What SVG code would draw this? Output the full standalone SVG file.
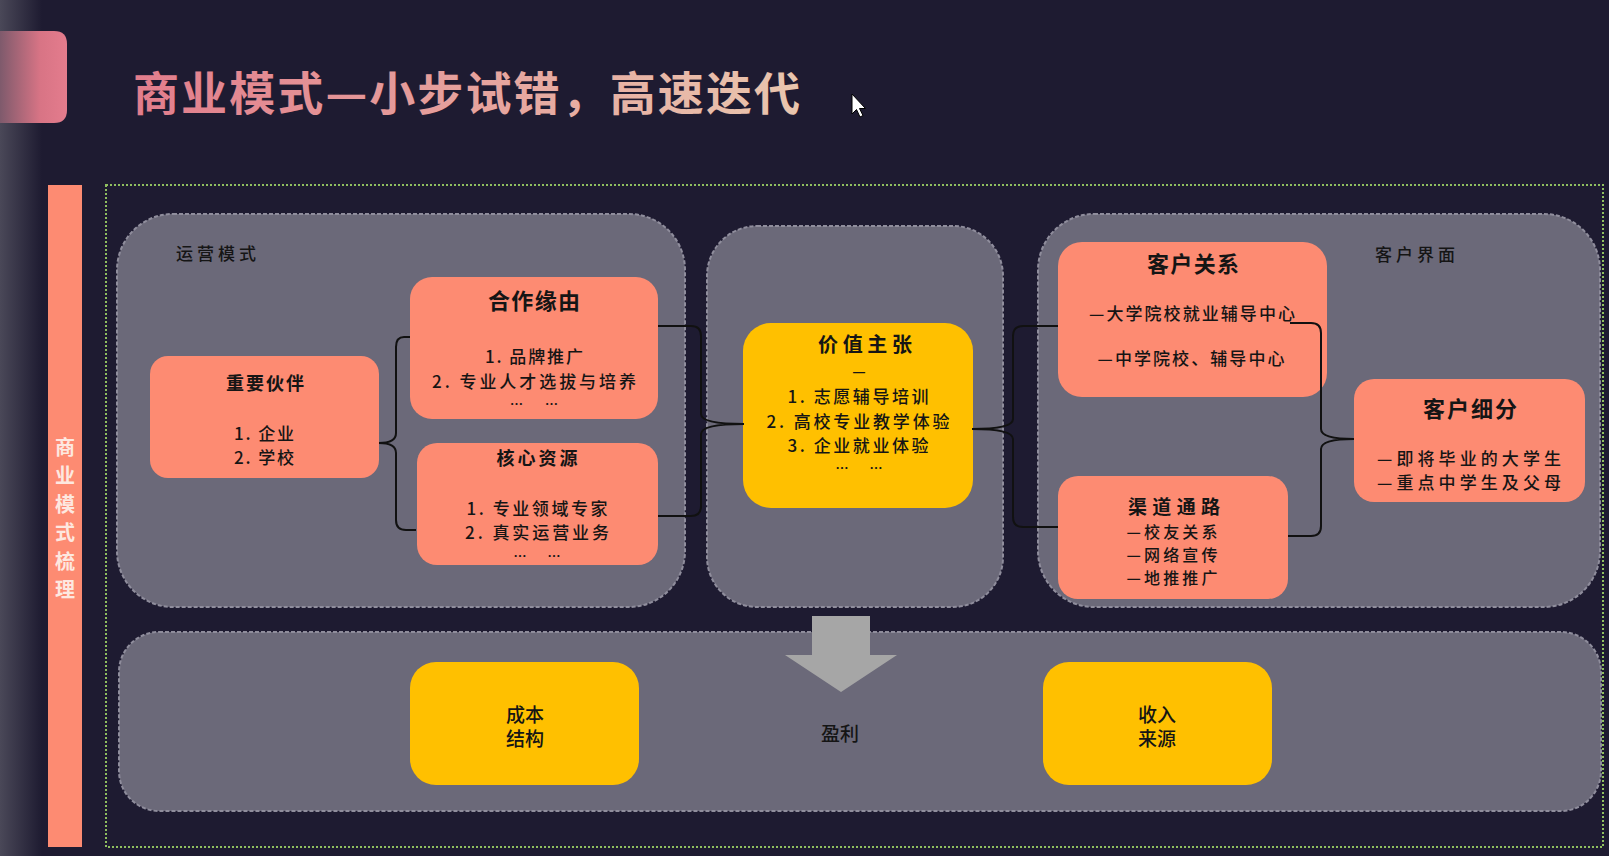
<svg xmlns="http://www.w3.org/2000/svg" width="1609" height="856" viewBox="0 0 1609 856">
<defs>
<linearGradient id="edge" x1="0" y1="0" x2="1" y2="0"><stop offset="0" stop-color="#4a4858"/><stop offset="1" stop-color="#1e1b31"/></linearGradient>
<linearGradient id="tab" x1="0" y1="0" x2="1" y2="0"><stop offset="0" stop-color="#7e5a6c"/><stop offset="0.6" stop-color="#d87485"/><stop offset="1" stop-color="#e47c8d"/></linearGradient>
<linearGradient id="ttl" gradientUnits="userSpaceOnUse" x1="133" y1="0" x2="800" y2="0"><stop offset="0" stop-color="#e27d8c"/><stop offset="1" stop-color="#e9c6ae"/></linearGradient>
<style>
.t{font-family:"Noto Sans CJK SC","Noto Sans",sans-serif;fill:#151515;dominant-baseline:central;text-anchor:middle}
.h{font-weight:700}
.b{font-weight:500}
.panel{fill:#6b6979;stroke:#8f8d9c;stroke-width:2;stroke-dasharray:4 2}
.sal{fill:#fd8b72}
.yel{fill:#ffc000}
.con{fill:none;stroke:#111;stroke-width:2}
</style>
</defs>
<rect width="1609" height="856" fill="#1e1b31"/>
<rect x="0" y="0" width="42" height="856" fill="url(#edge)"/>
<path d="M0,31 H54 Q67,31 67,44 V110 Q67,123 54,123 H0 Z" fill="url(#tab)"/>
<text x="133" y="90" font-family="Noto Sans CJK SC, sans-serif" font-size="46" font-weight="700" fill="url(#ttl)" dominant-baseline="central" textLength="667" lengthAdjust="spacing">商业模式—小步试错，高速迭代</text>
<path d="M852,94 L852,114 L856.5,109.5 L860,117 L863,115.5 L859.5,108.5 L865.5,108.5 Z" fill="#fff" stroke="#000" stroke-width="1"/>
<g id="sidebar">
<rect x="48" y="185" width="34" height="662" fill="#fd8b72"/>
<g font-family="Noto Sans CJK SC, sans-serif" font-size="20" font-weight="700" fill="#fde8e0" text-anchor="middle" dominant-baseline="central">
<text x="65" y="446">商</text><text x="65" y="474.5">业</text><text x="65" y="503">模</text><text x="65" y="531.5">式</text><text x="65" y="560">梳</text><text x="65" y="588.5">理</text>
</g>
</g>
<rect x="106" y="185" width="1497" height="662" fill="none" stroke="#8fbf5f" stroke-width="2" stroke-dasharray="2 2"/>
<g id="panel-ops">
<rect class="panel" x="117" y="214" width="568" height="393" rx="56"/>
<text class="t b" x="216" y="252" font-size="17" textLength="80" lengthAdjust="spacing">运营模式</text>
</g>
<g id="panel-value"><rect class="panel" x="707" y="226" width="296" height="381" rx="50"/></g>
<g id="panel-customer">
<rect class="panel" x="1038" y="214" width="562" height="393" rx="56"/>
<text class="t b" x="1415" y="253" font-size="17" textLength="80" lengthAdjust="spacing">客户界面</text>
</g>
<g id="panel-profit"><rect class="panel" x="119" y="632" width="1482" height="179" rx="40"/></g>
<g id="arrow"><path d="M812,616 H870 V655 H897 L841,692 L785,655 H812 Z" fill="#a6a6a6"/></g>
<g id="partners">
<rect class="sal" x="150" y="356" width="229" height="122" rx="18"/>
<text class="t h" x="265" y="382" font-size="18" textLength="78" lengthAdjust="spacing">重要伙伴</text>
<text class="t b" x="264" y="432" font-size="17" textLength="60" lengthAdjust="spacing">1. 企业</text>
<text class="t b" x="264" y="456" font-size="17" textLength="60" lengthAdjust="spacing">2. 学校</text>
</g>
<g id="reason">
<rect class="sal" x="410" y="277" width="248" height="142" rx="22"/>
<text class="t h" x="534" y="299" font-size="22" textLength="92" lengthAdjust="spacing">合作缘由</text>
<text class="t b" x="534" y="355" font-size="17" textLength="98" lengthAdjust="spacing">1. 品牌推广</text>
<text class="t b" x="534" y="380" font-size="17" textLength="204" lengthAdjust="spacing">2. 专业人才选拔与培养</text>
<text class="t h" x="534" y="403" font-size="13" textLength="48" lengthAdjust="spacing">… …</text>
</g>
<g id="resources">
<rect class="sal" x="417" y="443" width="241" height="122" rx="20"/>
<text class="t h" x="537" y="457" font-size="18" textLength="81" lengthAdjust="spacing">核心资源</text>
<text class="t b" x="537" y="507" font-size="17" textLength="141" lengthAdjust="spacing">1. 专业领域专家</text>
<text class="t b" x="537" y="531" font-size="17" textLength="144" lengthAdjust="spacing">2. 真实运营业务</text>
<text class="t h" x="537" y="555" font-size="13" textLength="47" lengthAdjust="spacing">… …</text>
</g>
<g id="value">
<rect class="yel" x="743" y="323" width="230" height="185" rx="28"/>
<text class="t h" x="865" y="343" font-size="20" textLength="94" lengthAdjust="spacing">价值主张</text>
<text class="t b" x="859" y="370" font-size="15">—</text>
<text class="t b" x="858" y="395" font-size="17" textLength="141" lengthAdjust="spacing">1. 志愿辅导培训</text>
<text class="t b" x="858" y="420" font-size="17" textLength="183" lengthAdjust="spacing">2. 高校专业教学体验</text>
<text class="t b" x="858" y="444" font-size="17" textLength="141" lengthAdjust="spacing">3. 企业就业体验</text>
<text class="t h" x="859" y="467" font-size="13" textLength="47" lengthAdjust="spacing">… …</text>
</g>
<g id="relations">
<rect class="sal" x="1058" y="242" width="269" height="155" rx="24"/>
<text class="t h" x="1193" y="262" font-size="22" textLength="92" lengthAdjust="spacing">客户关系</text>
<text class="t b" x="1192" y="312" font-size="17" textLength="206" lengthAdjust="spacing">—大学院校就业辅导中心</text>
<text class="t b" x="1191" y="357" font-size="17" textLength="187" lengthAdjust="spacing">—中学院校、辅导中心</text>
</g>
<g id="channels">
<rect class="sal" x="1058" y="476" width="230" height="123" rx="20"/>
<text class="t h" x="1174" y="505" font-size="19" textLength="92" lengthAdjust="spacing">渠道通路</text>
<text class="t b" x="1172" y="531" font-size="16" textLength="91" lengthAdjust="spacing">—校友关系</text>
<text class="t b" x="1172" y="554" font-size="16" textLength="91" lengthAdjust="spacing">—网络宣传</text>
<text class="t b" x="1172" y="577" font-size="16" textLength="91" lengthAdjust="spacing">—地推推广</text>
</g>
<g id="segments">
<rect class="sal" x="1354" y="379" width="231" height="123" rx="20"/>
<text class="t h" x="1470" y="407" font-size="22" textLength="94" lengthAdjust="spacing">客户细分</text>
<text class="t b" x="1469" y="457" font-size="17" textLength="184" lengthAdjust="spacing">—即将毕业的大学生</text>
<text class="t b" x="1469" y="481" font-size="17" textLength="184" lengthAdjust="spacing">—重点中学生及父母</text>
</g>
<g id="cost">
<rect class="yel" x="410" y="662" width="229" height="123" rx="26"/>
<text class="t b" x="525" y="713" font-size="19">成本</text>
<text class="t b" x="525" y="737" font-size="19">结构</text>
</g>
<g id="profit-label"><text class="t b" x="840" y="732" font-size="19">盈利</text></g>
<g id="revenue">
<rect class="yel" x="1043" y="662" width="229" height="123" rx="26"/>
<text class="t b" x="1157" y="713" font-size="19">收入</text>
<text class="t b" x="1157" y="737" font-size="19">来源</text>
</g>
<g id="connectors">
<path class="con" d="M379,443 Q396,443 396,433 L396,347 Q396,337 404,337 L410,337 M379,443 Q396,443 396,453 L396,520 Q396,530 406,530 L416,530"/>
<path class="con" d="M658,326 L691,326 Q701,326 701,336 L701,414 Q701,424 744,424 Q701,424 701,434 L701,506 Q701,516 691,516 L658,516"/>
<path class="con" d="M972,429 Q1013,429 1013,419 L1013,336 Q1013,326 1023,326 L1058,326 M972,429 Q1013,429 1013,439 L1013,517 Q1013,527 1023,527 L1058,527"/>
<path class="con" d="M1290,323 L1311,323 Q1321,323 1321,333 L1321,429 Q1321,439 1354,439 Q1321,439 1321,449 L1321,526 Q1321,536 1311,536 L1288,536"/>
</g>
</svg>
